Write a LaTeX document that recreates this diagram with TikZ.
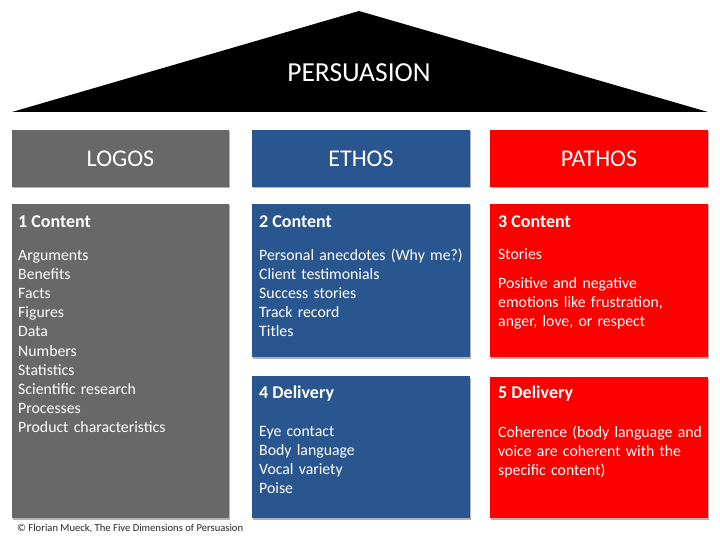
\documentclass[tikz,border=0pt]{standalone}
\usepackage{fontspec}
\setmainfont{Carlito}
\usetikzlibrary{shadows}
\definecolor{logosgray}{RGB}{104,104,104}
\definecolor{ethosblue}{RGB}{42,86,143}
\definecolor{pathosred}{RGB}{252,0,0}
\begin{document}
\begin{tikzpicture}[x=1pt,y=-1pt,
  box/.style={draw=none, inner sep=0, outer sep=0, anchor=north west,
    drop shadow={shadow xshift=1pt, shadow yshift=-1.5pt, opacity=0.3, fill=black}},
  hdrbox/.style={box, minimum width=217pt, minimum height=57pt, text=white,
    font=\fontsize{24}{28}\selectfont},
  heading/.style={anchor=base west, inner sep=0, text=white,
    font=\fontsize{18}{21}\selectfont\bfseries},
  body/.style={anchor=base west, inner sep=0, text=white, text width=208pt, align=left,
    font=\fontsize{15.8}{19.2}\selectfont}]
\useasboundingbox (0,0) rectangle (720,540);

% roof
\fill[black] (12,112) -- (359,11) -- (708,112) -- cycle;
\node[text=white, font=\fontsize{27.5}{32}\selectfont] (persuasion) at (359,73) {PERSUASION};

% header boxes
\node[hdrbox, fill=logosgray] (logos) at (12,130) {LOGOS};
\node[hdrbox, fill=ethosblue, minimum width=218pt] (ethos) at (252,130) {ETHOS};
\node[hdrbox, fill=pathosred, minimum width=218pt] (pathos) at (490,130) {PATHOS};

% content boxes
\node[box, fill=logosgray, minimum width=217pt, minimum height=314pt] (logosc) at (12,204) {};
\node[box, fill=ethosblue, minimum width=218pt, minimum height=153pt] (ethosc) at (252,204) {};
\node[box, fill=pathosred, minimum width=218pt, minimum height=153pt] (pathosc) at (490,204) {};
\node[box, fill=ethosblue, minimum width=218pt, minimum height=142pt] (ethosd) at (252,376) {};
\node[box, fill=pathosred, minimum width=218pt, minimum height=141pt] (pathosd) at (490,377) {};

% texts
\node[heading] (h1) at (18,227) {1 Content};
\node[body] (b1) at (18,260) {Arguments\\Benefits\\Facts\\Figures\\Data\\Numbers\\Statistics\\Scientific research\\Processes\\Product characteristics};

\node[heading] (h2) at (259,227) {2 Content};
\node[body] (b2) at (259,260) {Personal anecdotes (Why me?)\\Client testimonials\\Success stories\\Track record\\Titles};

\node[heading] (h3) at (498,227) {3 Content};
\node[body] (b3) at (498,259) {Stories\\[9.8pt]Positive and negative\\emotions like frustration,\\anger, love, or respect};

\node[heading] (h4) at (259,398) {4 Delivery};
\node[body] (b4) at (259,436) {Eye contact\\Body language\\Vocal variety\\Poise};

\node[heading] (h5) at (498,398) {5 Delivery};
\node[body] (b5) at (498,437) {Coherence (body language and\\voice are coherent with the\\specific content)};

\node[anchor=base west, inner sep=0, text=black!85, font=\fontsize{10.6}{12}\selectfont] (copy) at (17,531) {© Florian Mueck, The Five Dimensions of Persuasion};
\end{tikzpicture}
\end{document}
